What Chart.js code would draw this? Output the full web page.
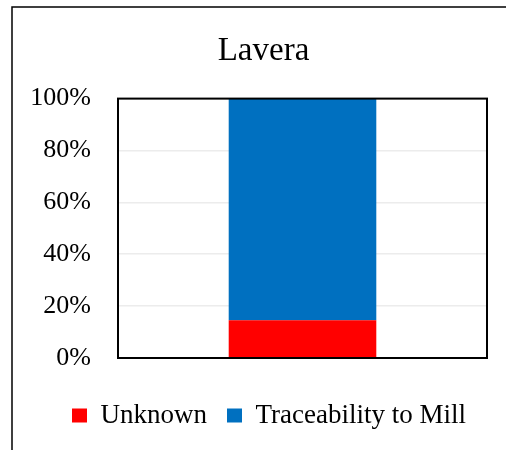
<!DOCTYPE html>
<html>
<head>
<meta charset="utf-8">
<script src="https://cdn.jsdelivr.net/npm/chart.js@4"></script>
<style>
  html, body { margin: 0; padding: 0; background: #fff; overflow: hidden; }
  #wrap { position: relative; width: 506px; height: 450px; }
</style>
</head>
<body>
<div id="wrap"><canvas id="chart"></canvas></div>
<script>
// Data
const categories = ['Lavera'];
const unknownShare = [14.6];
const millShare = [85.4];
const yTicks = [0, 20, 40, 60, 80, 100];

const serif = "'Liberation Serif', 'Times New Roman', serif";

// outer frame of the whole chart (runs off the right/bottom edge)
const outerFrame = {
  id: 'outerFrame',
  beforeDraw(chart) {
    const ctx = chart.ctx;
    ctx.save();
    ctx.fillStyle = '#fff';
    ctx.fillRect(0, 0, chart.width, chart.height);
    ctx.strokeStyle = '#000';
    ctx.lineWidth = 1.5;
    ctx.strokeRect(12, 7, 700, 700);
    ctx.restore();
  }
};

// black box round the plot area, drawn over the bar
const plotFrame = {
  id: 'plotFrame',
  afterDatasetsDraw(chart) {
    const a = chart.chartArea;
    const ctx = chart.ctx;
    ctx.save();
    ctx.strokeStyle = '#000';
    ctx.lineWidth = 2;
    ctx.strokeRect(a.left, a.top, a.right - a.left, a.bottom - a.top);
    ctx.restore();
  }
};

// title and legend sit a bit right of the canvas centre in the original
const shiftBlocks = {
  id: 'shiftBlocks',
  afterLayout(chart) {
    chart.titleBlock.left += 40;
    chart.legend.left += 51;
  }
};

new Chart(document.getElementById('chart'), {
  type: 'bar',
  data: {
    labels: categories,
    datasets: [
      {
        label: 'Unknown',
        data: unknownShare,
        backgroundColor: '#FF0000',
        categoryPercentage: 1,
        barPercentage: 0.4
      },
      {
        label: 'Traceability to Mill',
        data: millShare,
        backgroundColor: '#0070C0',
        categoryPercentage: 1,
        barPercentage: 0.4
      }
    ]
  },
  options: {
    responsive: true,
    maintainAspectRatio: false,
    animation: false,
    layout: { padding: { left: 0, right: 19, top: 0, bottom: 11 } },
    scales: {
      x: {
        stacked: true,
        grid: { display: false },
        border: { display: false },
        ticks: { display: false },
        afterFit(scale) { scale.height = 24; }
      },
      y: {
        stacked: true,
        min: 0,
        max: 100,
        afterFit(scale) { scale.width = 118; },
        afterBuildTicks(scale) { scale.ticks = yTicks.map(v => ({ value: v })); },
        grid: { color: '#ececec', lineWidth: 1.5, drawTicks: false },
        border: { display: false },
        ticks: {
          padding: 27,
          color: '#000',
          font: { family: serif, size: 26 },
          callback: v => v + '%'
        }
      }
    },
    plugins: {
      title: {
        display: true,
        text: 'Lavera',
        color: '#000',
        font: { family: serif, size: 33, weight: 'normal' },
        padding: { top: 32, bottom: 27 }
      },
      legend: {
        display: true,
        position: 'bottom',
        labels: {
          color: '#000',
          font: { family: serif, size: 27 },
          boxWidth: 15,
          boxHeight: 14,
          padding: 20
        }
      },
      tooltip: { enabled: false }
    }
  },
  plugins: [outerFrame, plotFrame, shiftBlocks]
});
</script>
</body>
</html>
